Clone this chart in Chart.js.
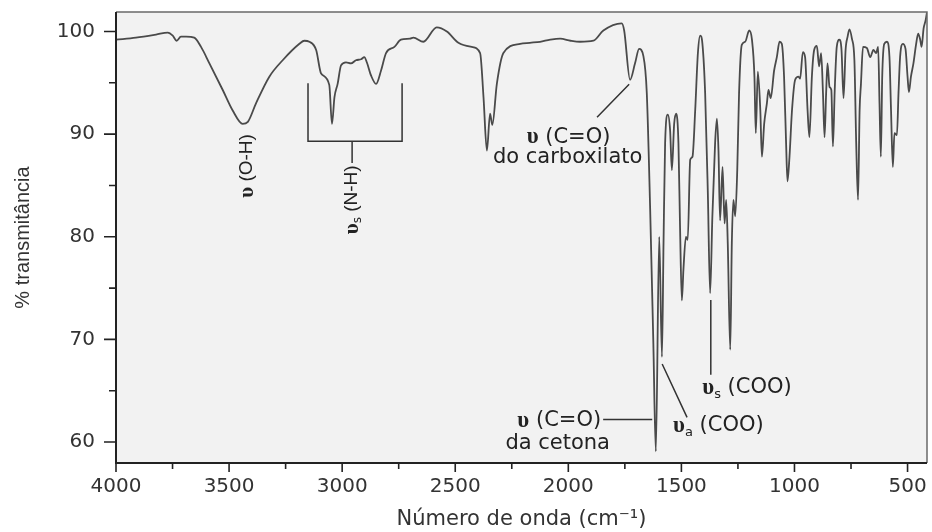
<!DOCTYPE html>
<html>
<head>
<meta charset="utf-8">
<script src="https://cdn.jsdelivr.net/npm/chart.js@4.4.0/dist/chart.umd.min.js"></script>
<style>
  html, body { margin: 0; padding: 0; background: #fff; }
</style>
</head>
<body>
<canvas id="ir-chart" width="932" height="532"></canvas>
<script>
// IR spectrum (cm-1 vs % transmittance)
const wavenumber = [
  4000, 3912, 3823, 3771, 3749, 3732, 3713, 3690, 3654, 3624, 3587, 3528, 3484, 3440, 3417,
  3381, 3322, 3263, 3189, 3167, 3145, 3115, 3093, 3057, 3045, 3034, 3020, 3005, 2983, 2961,
  2939, 2916, 2902, 2891, 2872, 2850, 2828, 2806, 2769, 2740, 2700, 2685, 2641, 2582, 2537,
  2486, 2427, 2390, 2375, 2360, 2346, 2336, 2316, 2287, 2213, 2170, 2125, 2080, 2036, 1990,
  1948, 1889, 1845, 1764, 1753, 1727, 1705, 1687, 1668, 1653, 1638, 1624, 1613, 1598, 1586,
  1579, 1572, 1560, 1550, 1542, 1532, 1523, 1513, 1506, 1498, 1491, 1480, 1472, 1461, 1451,
  1439, 1427, 1417, 1407, 1395, 1383, 1373, 1363, 1351, 1343, 1336, 1329, 1318, 1309, 1302,
  1295, 1284, 1277, 1270, 1262, 1253, 1245, 1233, 1218, 1200, 1188, 1177, 1171, 1162, 1151,
  1144, 1134, 1122, 1115, 1105, 1090, 1078, 1066, 1056, 1046, 1037, 1031, 1022, 1011, 997,
  982, 975, 963, 953, 942, 934, 923, 913, 901, 891, 882, 874, 867, 860, 854,
  845, 837, 830, 822, 813, 801, 792, 783, 774, 765, 757, 746, 735, 727, 719,
  712, 706, 697, 680, 665, 651, 639, 630, 624, 618, 612, 603, 591, 580, 573,
  565, 558, 547, 540, 533, 521, 509, 500, 494, 485, 474, 462, 453, 444, 438,
  429, 420, 414
];
const transmittance = [
  99.2, 99.4, 99.7, 99.9, 99.6, 99.1, 99.5, 99.5, 99.4, 98.5, 96.9, 94.3, 92.3, 91.0, 91.2,
  93.0, 95.6, 97.2, 98.8, 99.1, 99.0, 98.2, 95.9, 94.8, 91.0, 93.6, 94.9, 96.7, 97.0, 96.9,
  97.2, 97.3, 97.5, 97.0, 95.7, 94.9, 96.2, 97.9, 98.5, 99.2, 99.3, 99.4, 99.0, 100.4, 100.0,
  98.9, 98.5, 97.9, 93.6, 88.4, 92.0, 90.9, 94.9, 97.9, 98.8, 98.9, 99.0, 99.2, 99.3, 99.1,
  99.0, 99.1, 100.1, 100.8, 100.1, 95.3, 96.9, 98.3, 97.6, 94.0, 82.6, 69.6, 59.1, 80.0, 68.3,
  79.4, 89.1, 91.9, 90.4, 86.5, 91.0, 92.0, 89.1, 81.0, 73.8, 76.8, 80.0, 79.7, 87.5, 87.8,
  92.3, 97.9, 99.6, 98.8, 94.0, 84.2, 74.5, 82.0, 89.1, 91.5, 88.4, 81.6, 86.8, 81.3, 83.6,
  79.4, 69.0, 79.4, 83.6, 82.0, 86.5, 94.0, 98.7, 99.0, 100.1, 99.2, 95.6, 90.1, 96.1, 92.3,
  87.8, 91.0, 93.0, 94.3, 93.5, 96.2, 97.5, 99.0, 98.8, 95.6, 89.1, 85.4, 87.8, 92.3, 95.3,
  95.6, 95.4, 98.0, 97.5, 92.3, 89.7, 95.6, 98.2, 98.6, 96.6, 97.9, 94.0, 89.7, 94.0, 96.9,
  94.6, 94.3, 88.8, 94.3, 98.5, 99.2, 98.2, 93.5, 98.2, 99.5, 100.2, 99.3, 97.2, 89.1, 83.6,
  92.3, 94.9, 98.5, 98.4, 97.5, 98.2, 97.9, 98.5, 93.0, 87.8, 95.6, 98.8, 99.0, 97.5, 92.3,
  86.8, 90.1, 89.9, 94.0, 97.5, 98.8, 98.3, 95.6, 94.1, 95.6, 96.9, 98.8, 99.8, 99.2, 98.5,
  100.3, 101.1, 101.9
];

const xMajorTicks = [4000, 3500, 3000, 2500, 2000, 1500, 1000, 500];
const xMinorTicks = [3750, 3250, 2750, 2250, 1750, 1250, 750];
const yMajorTicks = [60, 70, 80, 90, 100];
const yMinorTicks = [65, 75, 85, 95];

const SANS = '"DejaVu Sans"';
const ARIAL = '"Liberation Sans"';
const SERIF = '"Liberation Serif"';

// write a label made of several pieces (upsilon, subscript, rest)
function richText(ctx, parts, x, y, align) {
  let total = 0;
  parts.forEach(p => { ctx.font = p.font; p.w = ctx.measureText(p.text).width; total += p.w; });
  let cx = align === 'center' ? x - total / 2 : (align === 'right' ? x - total : x);
  parts.forEach(p => {
    ctx.font = p.font;
    ctx.fillText(p.text, cx, y + (p.dy || 0));
    cx += p.w;
  });
}

function upsilon(size) { return { text: 'υ', font: 'bold ' + size + 'px ' + SERIF }; }
function sub(t, size) { return { text: t, font: Math.round(size * 0.62) + 'px ' + SANS, dy: size * 0.3 }; }

const framePlugin = {
  id: 'frame',
  beforeDraw(chart) {
    const { ctx, chartArea: a } = chart;
    ctx.save();
    ctx.fillStyle = '#f2f2f2';
    ctx.fillRect(a.left, a.top, a.right - a.left, a.bottom - a.top);
    ctx.restore();
  },
  afterDatasetsDraw(chart) {
    const { ctx, chartArea: a, scales: { x, y } } = chart;
    ctx.save();
    ctx.strokeStyle = '#6a6a6a';
    ctx.lineWidth = 1.5;
    ctx.beginPath();
    ctx.moveTo(a.left, a.top);
    ctx.lineTo(a.right, a.top);
    ctx.lineTo(a.right, a.bottom);
    ctx.stroke();

    ctx.strokeStyle = '#222';
    ctx.lineWidth = 2;
    ctx.beginPath();
    ctx.moveTo(a.left, a.top);
    ctx.lineTo(a.left, a.bottom);
    ctx.lineTo(a.right, a.bottom);
    ctx.stroke();

    ctx.lineWidth = 1.6;
    ctx.beginPath();
    xMajorTicks.forEach(v => { const p = x.getPixelForValue(v); ctx.moveTo(p, a.bottom); ctx.lineTo(p, a.bottom + 9); });
    xMinorTicks.forEach(v => { const p = x.getPixelForValue(v); ctx.moveTo(p, a.bottom); ctx.lineTo(p, a.bottom + 6); });
    yMajorTicks.forEach(v => { const p = y.getPixelForValue(v); ctx.moveTo(a.left, p); ctx.lineTo(a.left - 12, p); });
    yMinorTicks.forEach(v => { const p = y.getPixelForValue(v); ctx.moveTo(a.left, p); ctx.lineTo(a.left - 7, p); });
    ctx.stroke();
    ctx.restore();
  }
};

const labelPlugin = {
  id: 'bandLabels',
  afterDraw(chart) {
    const { ctx, scales: { x, y } } = chart;
    const X = v => x.getPixelForValue(v);
    const Y = v => y.getPixelForValue(v);
    ctx.save();
    ctx.fillStyle = '#222';
    ctx.strokeStyle = '#333';
    ctx.lineWidth = 1.5;
    ctx.textBaseline = 'middle';
    ctx.textAlign = 'left';

    // bracket over the N-H bands
    ctx.beginPath();
    ctx.moveTo(X(3151), Y(94.97));
    ctx.lineTo(X(3151), Y(89.3));
    ctx.lineTo(X(2735), Y(89.3));
    ctx.lineTo(X(2735), Y(94.97));
    ctx.moveTo(X(2956), Y(89.3));
    ctx.lineTo(X(2956), Y(87.2));
    // leader lines
    ctx.moveTo(X(1873), Y(91.65));
    ctx.lineTo(X(1731), Y(94.87));
    ctx.moveTo(X(1846), Y(62.2));
    ctx.lineTo(X(1629), Y(62.2));
    ctx.moveTo(X(1585), Y(67.6));
    ctx.lineTo(X(1475), Y(62.4));
    ctx.moveTo(X(1370), Y(73.85));
    ctx.lineTo(X(1370), Y(66.55));
    ctx.stroke();

    // vertical labels
    const vs = 19;
    [[3420, 86.9, [upsilon(vs + 2), { text: ' (O-H)', font: vs + 'px ' + ARIAL }]],
     [2956, 83.6, [upsilon(vs + 2), sub('s', vs), { text: ' (N-H)', font: vs + 'px ' + ARIAL }]]]
      .forEach(([wx, ty, parts]) => {
        ctx.save();
        ctx.translate(X(wx), Y(ty));
        ctx.rotate(-Math.PI / 2);
        richText(ctx, parts, 0, 0, 'center');
        ctx.restore();
      });

    const fs = 21;
    const sans = fs + 'px ' + SANS;
    richText(ctx, [upsilon(fs + 2), { text: ' (C=O)', font: sans }], X(1999), Y(89.7), 'center');
    richText(ctx, [{ text: 'do carboxilato', font: sans }], X(2003), Y(87.76), 'center');
    richText(ctx, [upsilon(fs + 2), { text: ' (C=O)', font: sans }], X(1846) - 2, Y(62.05), 'right');
    richText(ctx, [{ text: 'da cetona', font: sans }], X(2047), Y(59.82), 'center');
    richText(ctx, [upsilon(fs + 2), sub('a', fs), { text: ' (COO)', font: sans }], X(1537), Y(61.57), 'left');
    richText(ctx, [upsilon(fs + 2), sub('s', fs), { text: ' (COO)', font: sans }], X(1408), Y(65.27), 'left');
    ctx.restore();
  }
};

new Chart(document.getElementById('ir-chart'), {
  type: 'line',
  data: {
    datasets: [{
      label: '% transmitância',
      data: wavenumber.map((w, i) => ({ x: w, y: transmittance[i] })),
      borderColor: '#4a4a4a',
      borderWidth: 1.8,
      pointRadius: 0,
      cubicInterpolationMode: 'monotone',
      fill: false
    }]
  },
  options: {
    responsive: false,
    animation: false,
    layout: { padding: { top: 12, right: 5, left: 0, bottom: 0 } },
    plugins: { legend: { display: false }, tooltip: { enabled: false } },
    scales: {
      x: {
        type: 'linear',
        reverse: true,
        min: 414,
        max: 4000,
        afterBuildTicks: s => { s.ticks = xMajorTicks.map(v => ({ value: v })); },
        afterFit: s => { s.height = 69; s.paddingLeft = 0; s.paddingRight = 0; },
        grid: { display: false, drawTicks: true, tickLength: 9 },
        border: { display: false },
        ticks: {
          color: '#333',
          font: { family: 'DejaVu Sans', size: 20 },
          padding: 3,
          maxRotation: 0,
          autoSkip: false,
          callback: v => String(v)
        },
        title: {
          display: true,
          text: 'Número de onda (cm⁻¹)',
          color: '#333',
          font: { family: 'DejaVu Sans', size: 21 },
          padding: { top: 0, bottom: 0 }
        }
      },
      y: {
        min: 57.96,
        max: 101.9,
        afterBuildTicks: s => { s.ticks = yMajorTicks.map(v => ({ value: v })); },
        afterFit: s => { s.width = 116; s.paddingTop = 0; s.paddingBottom = 0; },
        grid: { display: false, drawTicks: true, tickLength: 12 },
        border: { display: false },
        ticks: { color: '#333', font: { family: 'DejaVu Sans', size: 20 }, padding: 9, callback: v => String(v) },
        title: {
          display: true,
          text: '% transmitância',
          color: '#333',
          font: { family: 'Liberation Sans', size: 20 },
          padding: { top: 11, bottom: 0 }
        }
      }
    }
  },
  plugins: [framePlugin, labelPlugin]
});
</script>
</body>
</html>
